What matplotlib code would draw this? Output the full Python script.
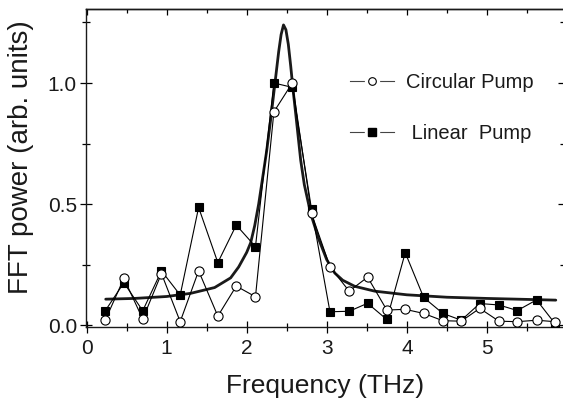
import matplotlib
matplotlib.use("Agg")
import matplotlib.pyplot as plt
from matplotlib.lines import Line2D
from matplotlib.legend_handler import HandlerTuple
from matplotlib.ticker import MultipleLocator

plt.rcParams['font.family'] = ['Liberation Sans', 'DejaVu Sans']

# ---- data ----
freq = [0.234, 0.467, 0.702, 0.936, 1.17, 1.40, 1.64, 1.87, 2.11, 2.34,
        2.57, 2.81, 3.04, 3.28, 3.51, 3.75, 3.98, 4.21, 4.45, 4.68,
        4.91, 5.15, 5.38, 5.62, 5.85]
circular = [0.020, 0.193, 0.025, 0.213, 0.014, 0.224, 0.037, 0.161, 0.117, 0.881,
            1.000, 0.461, 0.241, 0.140, 0.198, 0.062, 0.065, 0.048, 0.018, 0.016,
            0.069, 0.016, 0.014, 0.020, 0.014]
linear = [0.059, 0.175, 0.059, 0.224, 0.124, 0.486, 0.258, 0.413, 0.324, 1.000,
          0.982, 0.478, 0.055, 0.057, 0.090, 0.023, 0.299, 0.114, 0.048, 0.020,
          0.089, 0.083, 0.060, 0.104, 0.006]

fit_freq = [0.24, 0.6, 1.0, 1.3, 1.6, 1.8, 1.9, 2.0, 2.05, 2.1, 2.15, 2.2, 2.25,
            2.3, 2.35, 2.4, 2.43, 2.46, 2.49, 2.52, 2.55, 2.58, 2.62, 2.675,
            2.72, 2.8, 2.9, 3.0, 3.1, 3.2, 3.35, 3.6, 4.0, 4.5, 5.0, 5.5, 5.86]
fit_power = [0.107, 0.110, 0.118, 0.131, 0.155, 0.195, 0.240, 0.300, 0.340, 0.410,
             0.500, 0.610, 0.720, 0.850, 0.990, 1.130, 1.200, 1.240, 1.220, 1.160,
             1.070, 0.970, 0.850, 0.680, 0.580, 0.460, 0.355, 0.270, 0.215, 0.185,
             0.160, 0.140, 0.125, 0.115, 0.110, 0.106, 0.103]

labels = ["Circular Pump", " Linear  Pump"]
xticks = [0, 1, 2, 3, 4, 5]
yticks = [0.0, 0.5, 1.0]

# ---- figure ----
W, H = 563, 400
fig = plt.figure(figsize=(W / 100, H / 100), dpi=100)
left_px, right_px, top_px, bot_px = 85.7, 563.8, 9.3, 327.0
ax = fig.add_axes([left_px / W, 1 - bot_px / H,
                   (right_px - left_px) / W, (bot_px - top_px) / H])

txt = '#1a1a1a'
ax.plot(fit_freq, fit_power, color='#1a1a1a', lw=2.0, zorder=2,
        solid_capstyle='round', solid_joinstyle='round')
ax.plot(freq, linear, color='black', lw=0.8, marker='s', ms=6.2,
        mfc='black', mec='black', mew=0.8, zorder=3)
ax.plot(freq, circular, color='black', lw=0.8, marker='o', ms=6.6,
        mfc='white', mec='black', mew=0.8, zorder=4)

ax.set_xlim(-0.01, 5.96)
ax.set_ylim(-0.008, 1.3045)
ax.set_xticks(xticks)
ax.set_yticks(yticks)
ax.set_yticklabels([f"{v:.1f}" for v in yticks])
ax.xaxis.set_minor_locator(MultipleLocator(0.5))
ax.yaxis.set_minor_locator(MultipleLocator(0.25))
ax.tick_params(which='major', direction='inout', length=8.6, width=0.9,
               labelsize=15, labelcolor=txt, top=False, right=False)
ax.tick_params(which='minor', direction='inout', length=5.8, width=0.9,
               top=False, right=False)
ax.tick_params(axis='x', which='major', pad=4)
ax.tick_params(axis='y', which='major', pad=2)
for s in ax.spines.values():
    s.set_linewidth(1.0)
    s.set_color('#1a1a1a')

# top / right inward ticks
secx = ax.secondary_xaxis('top')
secx.set_xticks(xticks)
secx.xaxis.set_minor_locator(MultipleLocator(0.5))
secx.tick_params(which='major', direction='in', length=4.3, width=0.9, labeltop=False)
secx.tick_params(which='minor', direction='in', length=3.2, width=0.9)
secx.spines['top'].set_linewidth(1.0)
secy = ax.secondary_yaxis('right')
secy.set_yticks(yticks)
secy.yaxis.set_minor_locator(MultipleLocator(0.25))
secy.tick_params(which='major', direction='in', length=4.3, width=0.9, labelright=False)
secy.tick_params(which='minor', direction='in', length=3.2, width=0.9)

ax.set_xlabel("Frequency (THz)", fontsize=19, color=txt, labelpad=12)
ax.set_ylabel("FFT power (arb. units)", fontsize=20, color=txt)
ax.yaxis.set_label_coords(-0.108, 0.535)

# legend with gaps around markers
gap = dict(ls='-', color='#444444', lw=0.8, marker='o', ms=10,
           mfc='white', mec='white')
h_c = (Line2D([], [], **gap),
       Line2D([], [], ls='none', marker='o', ms=5.5, mfc='white', mec='black', mew=0.8))
gap2 = dict(gap); gap2['marker'] = 's'
h_l = (Line2D([], [], **gap2),
       Line2D([], [], ls='none', marker='s', ms=5.2, mfc='black', mec='black'))
leg = ax.legend([h_c, h_l], labels,
                handler_map={tuple: HandlerTuple(ndivide=1, pad=0)},
                loc='upper left', bbox_to_anchor=(0.553, 0.80), frameon=False,
                fontsize=14.5, handlelength=2.2, handletextpad=0.6,
                labelspacing=1.6, borderpad=0, borderaxespad=0)
for t in leg.get_texts():
    t.set_color(txt)

fig.savefig("out.png", dpi=100)
